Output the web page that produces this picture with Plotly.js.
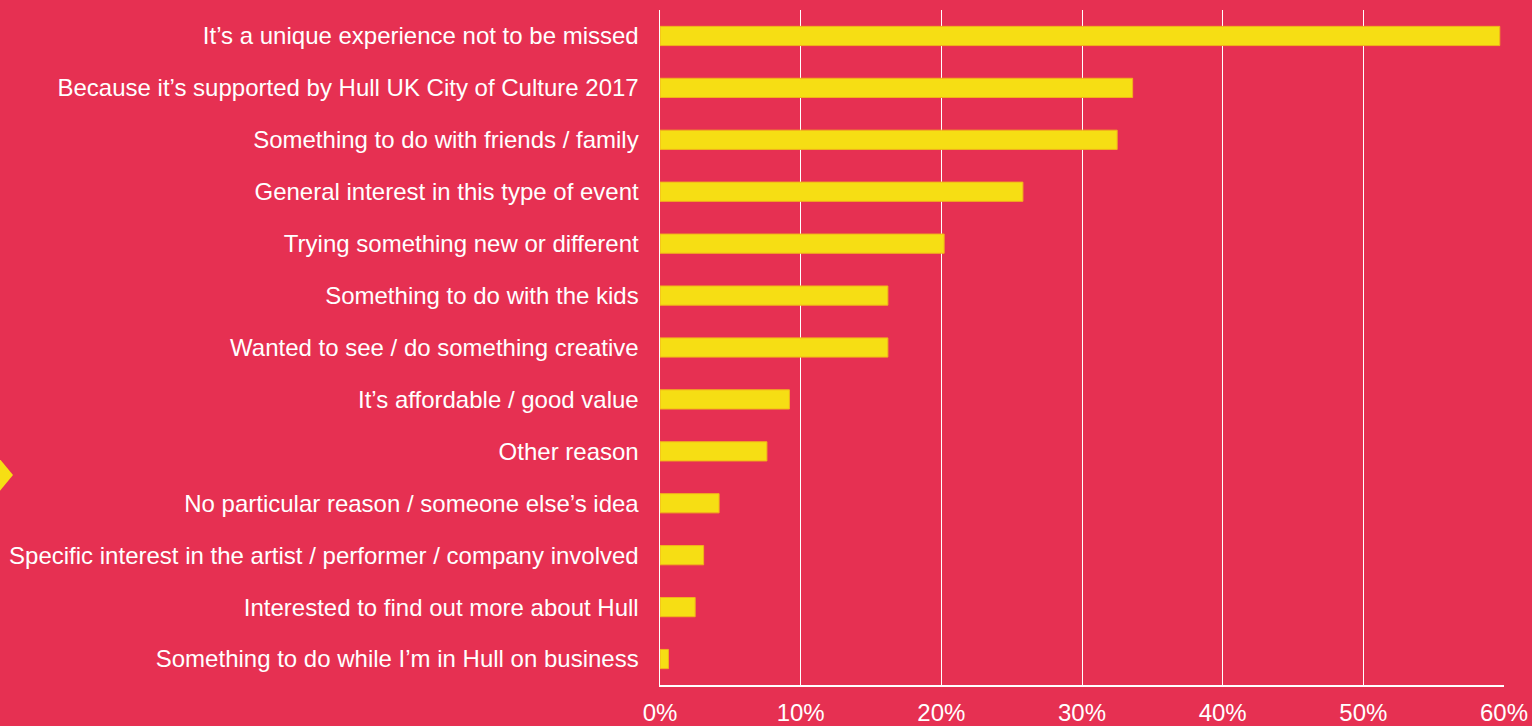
<!DOCTYPE html>
<html>
<head>
<meta charset="utf-8">
<script src="https://cdn.plot.ly/plotly-3.0.1.min.js"></script>
<style>html,body{margin:0;padding:0;background:#E63052;}#chart{width:1532px;height:726px;}</style>
</head>
<body>
<div id="chart"></div>
<script>
const categories = [
  "It’s a unique experience not to be missed",
  "Because it’s supported by Hull UK City of Culture 2017",
  "Something to do with friends / family",
  "General interest in this type of event",
  "Trying something new or different",
  "Something to do with the kids",
  "Wanted to see / do something creative",
  "It’s affordable / good value",
  "Other reason",
  "No particular reason / someone else’s idea",
  "Specific interest in the artist / performer / company involved",
  "Interested to find out more about Hull",
  "Something to do while I’m in Hull on business"
];
const values = [59.7, 33.6, 32.5, 25.8, 20.2, 16.2, 16.2, 9.2, 7.6, 4.2, 3.1, 2.5, 0.6];
const tickVals = [0, 10, 20, 30, 40, 50, 60];
const tickText = ["0%", "10%", "20%", "30%", "40%", "50%", "60%"];

const W = 1532, H = 726;
const m = {l: 660, r: 28, t: 10, b: 41, pad: 0};
const pw = W - m.l - m.r, ph = H - m.t - m.b;
function px(x){ return (x - m.l) / pw; }
function py(y){ return 1 - (y - m.t) / ph; }
const arrow = `M ${px(-30)} ${py(475 - 52)} L ${px(13)} ${py(475)} L ${px(-30)} ${py(475 + 52)} Z`;

const trace = {
  type: 'bar',
  orientation: 'h',
  y: categories,
  x: values,
  width: 0.37,
  marker: {color: '#F6DE14', line: {color: '#F2B21C', width: 1}},
  hoverinfo: 'none'
};

const layout = {
  width: W, height: H,
  margin: m,
  paper_bgcolor: '#E63052',
  plot_bgcolor: '#E63052',
  font: {family: 'Liberation Sans, Arial, sans-serif', color: '#FFFFFF', size: 24},
  showlegend: false,
  xaxis: {
    range: [0, 60],
    tickvals: tickVals,
    ticktext: tickText,
    showgrid: true,
    gridcolor: '#FFFFFF',
    gridwidth: 1,
    showline: true,
    linecolor: '#FFFFFF',
    linewidth: 1.5,
    zeroline: false,
    ticks: '',
    ticklabelstandoff: 6,
    tickfont: {size: 24, color: '#FFFFFF'},
    fixedrange: true
  },
  yaxis: {
    autorange: 'reversed',
    showgrid: false,
    showline: true,
    linecolor: '#FFFFFF',
    linewidth: 1.5,
    zeroline: false,
    ticks: '',
    ticklabelstandoff: 15,
    tickfont: {size: 24, color: '#FFFFFF'},
    fixedrange: true
  },
  shapes: [{
    type: 'path', xref: 'paper', yref: 'paper',
    path: arrow, fillcolor: '#F6DE14', line: {width: 0}, layer: 'above'
  }]
};

Plotly.newPlot('chart', [trace], layout, {displayModeBar: false, staticPlot: true});
</script>
</body>
</html>
